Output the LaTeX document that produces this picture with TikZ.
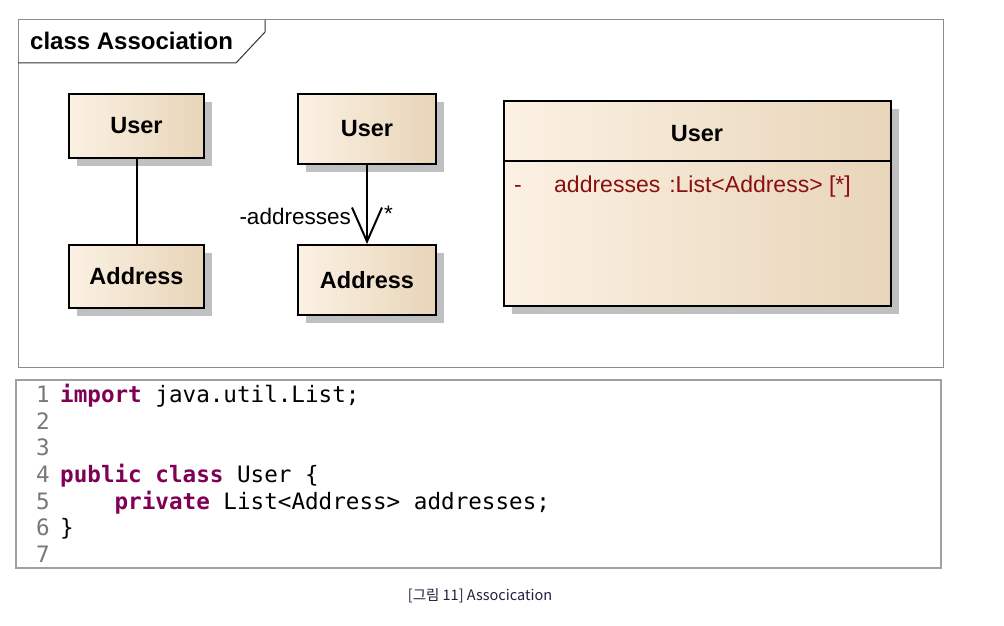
\documentclass[tikz,border=0pt]{standalone}
\usepackage{fontspec}
\setmainfont{Liberation Sans}
\newfontfamily\codefont{DejaVu Sans Mono}
\newfontfamily\capfont{Noto Sans CJK KR}
\usetikzlibrary{shadows,arrows.meta}
\definecolor{boxL}{HTML}{FBF1E3}
\definecolor{boxR}{HTML}{E8D5B9}
\definecolor{shadowgray}{HTML}{C0C0C0}
\definecolor{framegray}{HTML}{8C8C8C}
\definecolor{codegray}{HTML}{A0A0A0}
\definecolor{kw}{HTML}{7F0055}
\definecolor{lnum}{HTML}{787878}
\definecolor{attr}{HTML}{8B0F0F}
\definecolor{captext}{HTML}{1E2240}
\tikzset{
  cls/.style={draw=black, line width=2pt, left color=boxL, right color=boxR, shading angle=90,
    inner sep=0pt, anchor=north west, font=\fontsize{23.5}{27}\selectfont\bfseries,
    drop shadow={shadow xshift=8pt, shadow yshift=-8pt, fill=shadowgray, opacity=1}},
  code/.style={anchor=base west, inner sep=0pt, font=\codefont\fontsize{22.6}{26}\selectfont},
  lno/.style={anchor=base east, inner sep=0pt, text=lnum, font=\codefont\fontsize{22.6}{26}\selectfont},
}
\newcommand{\kwd}[1]{\textcolor{kw}{\bfseries #1}}
\begin{document}
\begin{tikzpicture}[x=1pt,y=-1pt]
\useasboundingbox (0,0) rectangle (1004,626);
\fill[white] (0,0) rectangle (1004,626);
% diagram frame
\draw[framegray, line width=1pt] (18,20) rectangle (943,367);
\draw[black!80, line width=1pt] (18,63) -- (236,63) -- (265,32) -- (265,20);
\node[anchor=west, inner sep=0pt, font=\fontsize{24}{28}\selectfont\bfseries] (title) at (30,41) {class Association};
% left pair
\node[cls, minimum width=135pt, minimum height=64pt] (u1) at (68,93) {User};
\node[cls, minimum width=135pt, minimum height=63pt] (a1) at (68,244) {Address};
\draw[line width=2pt] (u1.south) -- (a1.north);
% middle pair
\node[cls, minimum width=138pt, minimum height=70pt] (u2) at (297,93) {User};
\node[cls, minimum width=138pt, minimum height=70pt] (a2) at (297,244) {Address};
\draw[line width=2pt, -{Straight Barb[length=34pt, width=30pt, line width=2pt]}] (u2.south) -- (a2.north);
\node[anchor=east, inner sep=0pt, font=\fontsize{22.5}{26}\selectfont] (role) at (351,216) {-addresses};
\node[anchor=west, inner sep=0pt, font=\fontsize{22.5}{26}\selectfont] (mult) at (384,214) {*};
% big class
\node[cls, minimum width=387pt, minimum height=205pt] (u3) at (503,100) {};
\coordinate (divL) at (503,161);
\coordinate (divR) at (890,161);
\draw[line width=2pt] (divL) -- (divR);
\node[inner sep=0pt, font=\fontsize{23.5}{27}\selectfont\bfseries] (u3name) at (697,134) {User};
\node[anchor=base west, inner sep=0pt, text=attr, font=\fontsize{23}{27}\selectfont] (dash) at (514,192) {-};
\node[anchor=base west, inner sep=0pt, text=attr, font=\fontsize{23}{27}\selectfont] (attrtxt) at (554,192) {addresses\hspace{9pt}:List<Address> [*]};
% code box
\draw[codegray, line width=2pt] (16,380) rectangle (941,568);
\node[lno] (n1) at (50,402) {1};
\node[lno] (n2) at (50,429) {2};
\node[lno] (n3) at (50,455) {3};
\node[lno] (n4) at (50,482) {4};
\node[lno] (n5) at (50,509) {5};
\node[lno] (n6) at (50,535) {6};
\node[lno] (n7) at (50,562) {7};
\node[code] (c1) at (60,402) {\kwd{import} java.util.List;};
\node[code] (c4) at (60,482) {\kwd{public} \kwd{class} User \{};
\node[code] (c5) at (60,509) {\phantom{abcd}\kwd{private} List<Address> addresses;};
\node[code] (c6) at (60,535) {\}};
% caption
\node[inner sep=0pt, text=captext, font=\capfont\fontsize{14.5}{17}\selectfont] (cap) at (480,596) {[그림 11] Assocication};
\end{tikzpicture}
\end{document}
